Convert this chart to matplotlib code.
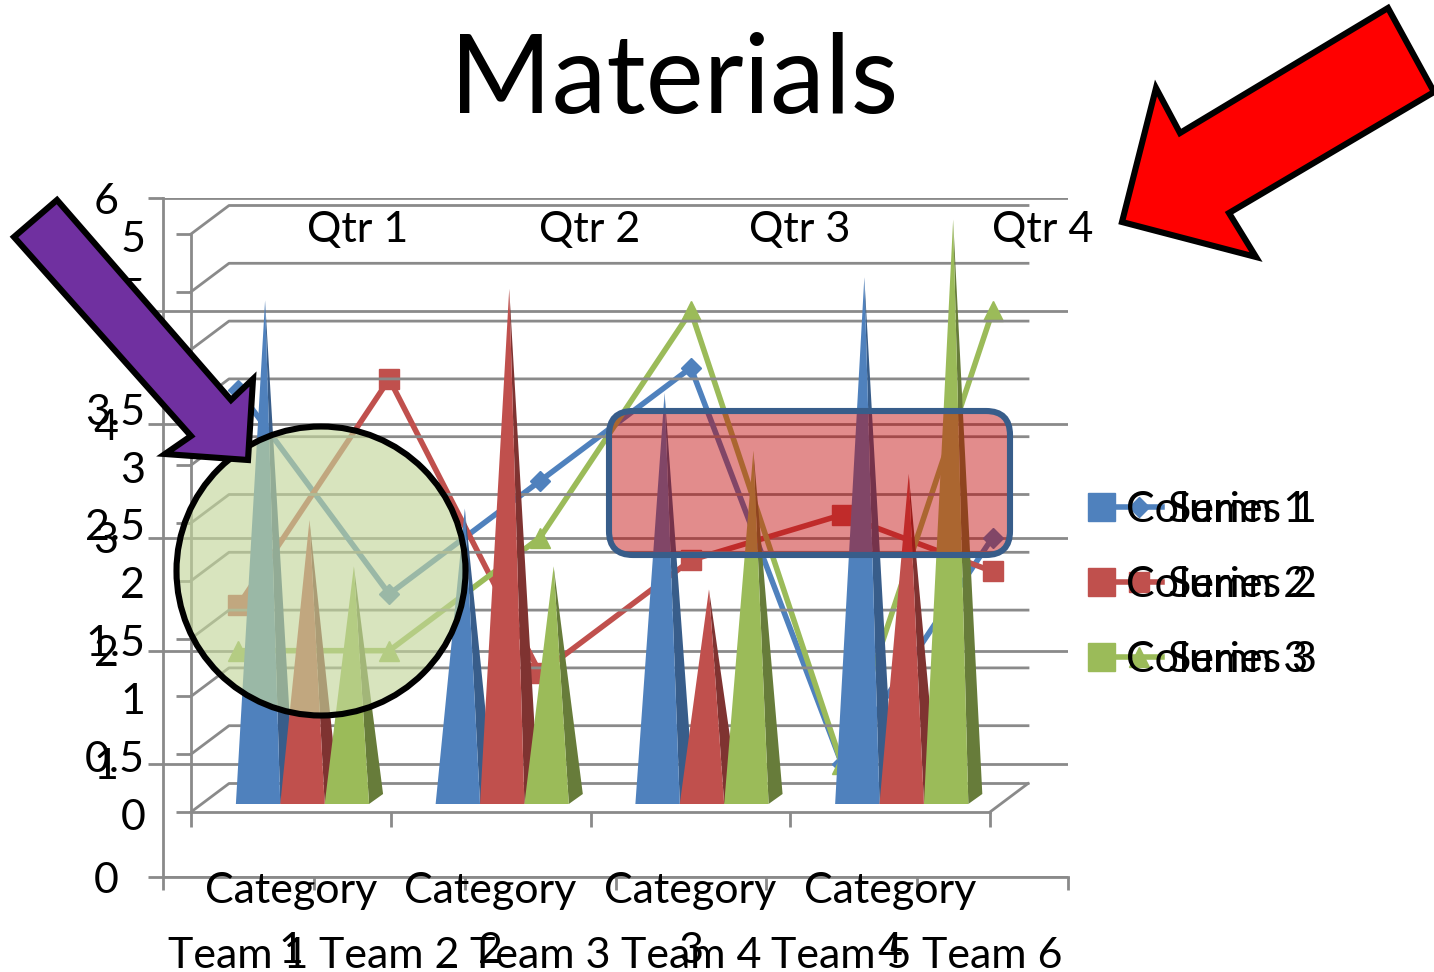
import matplotlib
matplotlib.use("Agg")
import matplotlib.pyplot as plt
from matplotlib.lines import Line2D
from matplotlib.patches import Circle, FancyBboxPatch, Patch, Polygon
from matplotlib.transforms import ScaledTranslation

W, H = 1434, 972

plt.rcParams["font.family"] = ["Lato", "DejaVu Sans"]

TEAMS = ["Team 1", "Team 2", "Team 3", "Team 4", "Team 5", "Team 6"]
LINE_NAMES = ["Column 1", "Column 2", "Column 3"]
LINE_1 = [4.3, 2.5, 3.5, 4.5, 1.0, 3.0]
LINE_2 = [2.4, 4.4, 1.8, 2.8, 3.2, 2.7]
LINE_3 = [2.0, 2.0, 3.0, 5.0, 1.0, 5.0]

CATEGORIES = ["Category\n1", "Category\n2", "Category\n3", "Category\n4"]
CONE_NAMES = ["Series 1", "Series 2", "Series 3"]
CONE_1 = [4.3, 2.5, 3.5, 4.5]
CONE_2 = [2.4, 4.4, 1.8, 2.8]
CONE_3 = [2.0, 2.0, 3.0, 5.0]
CONE_TICKS = [0, 0.5, 1, 1.5, 2, 2.5, 3, 3.5, 4, 4.5, 5]
CONE_TICK_LABELS = ["0", "0.5", "1", "1.5", "2", "2.5", "3", "3.5", "4", "4.5", "5"]

QUARTERS = ["Qtr 1", "Qtr 2", "Qtr 3", "Qtr 4"]

BLUE, RED, GREEN = "#4F81BD", "#C0504D", "#9BBB59"
BLUE_DK, RED_DK, GREEN_DK = "#385D8A", "#7F3331", "#677C3A"
GRID = "#8A8A8A"
TICK_SIZE = 31
LINE_W = 4.0
GRID_W = 2.0
SHAPE_W = 4.4


def px_rect(left, top, right, bottom):
    return [left / W, 1 - bottom / H, (right - left) / W, (bottom - top) / H]


def style_axis(ax):
    for side in ["top", "right"]:
        ax.spines[side].set_visible(False)
    for side in ["left", "bottom"]:
        ax.spines[side].set_color(GRID)
        ax.spines[side].set_linewidth(GRID_W)


fig = plt.figure(figsize=(W / 100, H / 100), dpi=100)

# flat line chart, sits behind everything else
line_ax = fig.add_axes(px_rect(163, 198, 1068, 877))
line_ax.set_xlim(0.5, 6.5)
line_ax.set_ylim(0, 6)
style_axis(line_ax)
line_ax.set_yticks(range(7))
line_ax.set_yticklabels([str(v) for v in range(7)])
line_ax.set_xticks([i + 0.5 for i in range(7)])
line_ax.set_xticklabels([])
line_ax.set_xticks(range(1, 7), minor=True)
line_ax.set_xticklabels(TEAMS, minor=True)
line_ax.tick_params(axis="x", which="minor", length=0, labelsize=TICK_SIZE, pad=43)
line_ax.tick_params(axis="x", which="major", length=9, width=GRID_W, color=GRID)
line_ax.tick_params(axis="y", length=11, width=GRID_W, color=GRID, labelsize=TICK_SIZE, pad=21)
line_ax.grid(axis="y", color=GRID, linewidth=GRID_W)
line_ax.set_axisbelow(True)

xs = range(1, 7)
line_ax.plot(xs, LINE_1, color=BLUE, lw=LINE_W, marker="D", ms=10)
line_ax.plot(xs, LINE_2, color=RED, lw=LINE_W, marker="s", ms=14.4)
line_ax.plot(xs, LINE_3, color=GREEN, lw=LINE_W, marker="^", ms=14.4)

line_handles = [
    Line2D([], [], color=BLUE, lw=LINE_W, marker="D", ms=10),
    Line2D([], [], color=RED, lw=LINE_W, marker="s", ms=14.4),
    Line2D([], [], color=GREEN, lw=LINE_W, marker="^", ms=14.4),
]
line_ax.legend(line_handles, LINE_NAMES, loc="upper left", frameon=False,
               bbox_to_anchor=(1115 / W, 1 - 491 / H), bbox_transform=fig.transFigure,
               fontsize=TICK_SIZE, borderpad=0, borderaxespad=0, numpoints=1,
               handlelength=1.1, handletextpad=-0.84, labelspacing=0.865)

# fake 3d cone chart on top
cone_ax = fig.add_axes(px_rect(191, 234, 990, 812))
cone_ax.patch.set_visible(False)
cone_ax.set_xlim(0.5, 4.5)
cone_ax.set_ylim(0, 5)
style_axis(cone_ax)
cone_ax.set_yticks(CONE_TICKS)
cone_ax.set_yticklabels(CONE_TICK_LABELS)
cone_ax.set_xticks([i + 0.5 for i in range(5)])
cone_ax.set_xticklabels([])
cone_ax.set_xticks(range(1, 5), minor=True)
cone_ax.set_xticklabels(CATEGORIES, minor=True, linespacing=1.73)
cone_ax.tick_params(axis="x", which="minor", length=0, labelsize=TICK_SIZE, pad=43)
cone_ax.tick_params(axis="x", which="major", length=11, width=GRID_W, color=GRID)
cone_ax.tick_params(axis="y", length=11, width=GRID_W, color=GRID, labelsize=TICK_SIZE, pad=22)
nudge = ScaledTranslation(0, -2 / 100, fig.dpi_scale_trans)
for label in cone_ax.get_yticklabels():
    label.set_transform(label.get_transform() + nudge)

CAT_PX = 799 / 4
VAL_PX = 578 / 5
depth_x = 38 / CAT_PX
depth_y = 28.5 / VAL_PX

for v in CONE_TICKS:
    cone_ax.plot([0.5, 0.5 + depth_x, 4.5 + depth_x], [v, v + depth_y, v + depth_y],
                 color=GRID, lw=GRID_W, clip_on=False, zorder=1)
cone_ax.plot([4.5, 4.5 + depth_x], [0, depth_y], color=GRID, lw=GRID_W, clip_on=False, zorder=1)

cone_w = 44.4 / CAT_PX
base_y = 8 / VAL_PX
back_y = 18 / VAL_PX
tip_y = 14.5 / VAL_PX
side_x = 14 / CAT_PX
first_left = -55 / CAT_PX

series = [(CONE_1, BLUE, BLUE_DK), (CONE_2, RED, RED_DK), (CONE_3, GREEN, GREEN_DK)]
for cat in range(4):
    for k, (vals, front, side) in enumerate(series):
        left = cat + 1 + first_left + k * cone_w
        right = left + cone_w
        tip_x = left + cone_w / 2 + side_x / 2
        top = vals[cat] + tip_y
        cone_ax.fill([right, right + side_x, tip_x], [base_y, back_y, top],
                     color=side, lw=0, clip_on=False, zorder=3)
        cone_ax.fill([left, right, tip_x], [base_y, base_y, top],
                     color=front, lw=0, clip_on=False, zorder=3)

cone_handles = [Patch(color=BLUE), Patch(color=RED), Patch(color=GREEN)]
cone_ax.legend(cone_handles, CONE_NAMES, loc="upper left", frameon=False,
               bbox_to_anchor=(1088 / W, 1 - 491 / H), bbox_transform=fig.transFigure,
               fontsize=TICK_SIZE, borderpad=0, borderaxespad=0,
               handlelength=0.63, handleheight=0.63, handletextpad=1.23, labelspacing=0.865)

# slide furniture, in pixel coordinates
top_ax = fig.add_axes([0, 0, 1, 1])
top_ax.set_xlim(0, W)
top_ax.set_ylim(H, 0)
top_ax.axis("off")

top_ax.text(674, 82, "Materials", fontsize=79, ha="center", va="center")
for name, x in zip(QUARTERS, [358, 590, 800, 1043]):
    top_ax.text(x, 230, name, fontsize=TICK_SIZE, ha="center", va="center")

top_ax.add_patch(Circle((321, 571), 144.5, facecolor="#C3D69BA6", edgecolor="black", lw=SHAPE_W))
top_ax.add_patch(FancyBboxPatch((630, 432), 359, 102, boxstyle="round,pad=21,rounding_size=24",
                                facecolor="#C0000073", edgecolor=BLUE_DK, lw=SHAPE_W))
top_ax.add_patch(Polygon([(57, 200), (14, 237), (191, 436), (165, 454), (248, 460), (253, 379), (231, 400)],
                         facecolor="#7030A0", edgecolor="black", lw=SHAPE_W))
top_ax.add_patch(Polygon([(1122, 222), (1156, 88), (1180, 133), (1388, 8), (1434, 92), (1229, 213), (1256, 257)],
                         facecolor="#FF0000", edgecolor="black", lw=SHAPE_W, clip_on=False))

fig.savefig("out.png", dpi=100)
